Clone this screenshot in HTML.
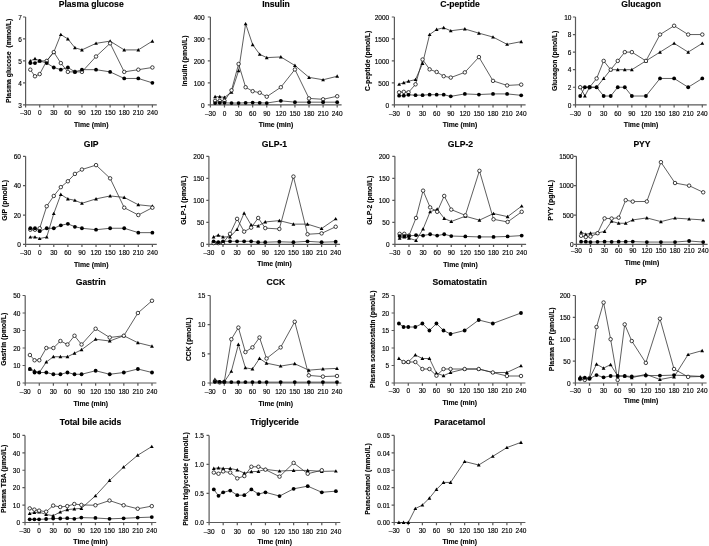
<!DOCTYPE html>
<html><head><meta charset="utf-8"><style>
html,body{margin:0;padding:0;background:#fff;}
svg{display:block;will-change:transform;}
text{font-family:"Liberation Sans",sans-serif;fill:#000;}
.tk{font-size:6.5px;stroke:#000;stroke-width:0.15px;}
.lb{font-size:6.85px;font-weight:bold;stroke:#000;stroke-width:0.12px;}
.tt{font-size:8.6px;font-weight:bold;stroke:#000;stroke-width:0.15px;}
</style></head><body>
<svg width="709" height="546" viewBox="0 0 709 546">
<rect width="709" height="546" fill="#fff"/>
<g><path d="M25.6 17V104.8H156.8" fill="none" stroke="#5a5a5a" stroke-width="1.2"/><path d="M23 104.8H25.6M23 82.85H25.6M23 60.9H25.6M23 38.95H25.6M23 17H25.6M25.6 104.8V107.5M39.69 104.8V107.5M53.78 104.8V107.5M67.86 104.8V107.5M81.95 104.8V107.5M96.04 104.8V107.5M110.13 104.8V107.5M124.22 104.8V107.5M138.3 104.8V107.5M152.39 104.8V107.5" stroke="#5a5a5a" stroke-width="1.2"/><text x="21.8" y="107.6" text-anchor="end" class="tk">3</text><text x="21.8" y="85.65" text-anchor="end" class="tk">4</text><text x="21.8" y="63.7" text-anchor="end" class="tk">5</text><text x="21.8" y="41.75" text-anchor="end" class="tk">6</text><text x="21.8" y="19.8" text-anchor="end" class="tk">7</text><text x="25.6" y="115" text-anchor="middle" class="tk">–30</text><text x="39.69" y="115" text-anchor="middle" class="tk">0</text><text x="53.78" y="115" text-anchor="middle" class="tk">30</text><text x="67.86" y="115" text-anchor="middle" class="tk">60</text><text x="81.95" y="115" text-anchor="middle" class="tk">90</text><text x="96.04" y="115" text-anchor="middle" class="tk">120</text><text x="110.13" y="115" text-anchor="middle" class="tk">150</text><text x="124.22" y="115" text-anchor="middle" class="tk">180</text><text x="138.3" y="115" text-anchor="middle" class="tk">210</text><text x="152.39" y="115" text-anchor="middle" class="tk">240</text><text x="91.2" y="126.9" text-anchor="middle" class="lb">Time (min)</text><text x="91.2" y="6.9" text-anchor="middle" class="tt">Plasma glucose</text><text transform="translate(10.9 60.9) rotate(-90)" text-anchor="middle" class="lb" xml:space="preserve">Plasma glucose  (mmol/L)</text><path d="M30.3 60.9L34.99 58.71L39.69 60.9L46.73 60.9L53.78 52.12L60.82 34.56L67.86 38.95L74.91 47.73L81.95 49.92L96.04 43.34L110.13 41.14L124.22 49.92L138.3 49.92L152.39 41.14" fill="none" stroke="#2a2a2a" stroke-width="0.75" stroke-linejoin="round"/><path d="M30.3 69.68L34.99 76.27L39.69 74.07L46.73 60.9L53.78 52.12L60.82 63.09L67.86 71.88L74.91 71.88L81.95 71.88L96.04 56.51L110.13 43.34L124.22 71.88L138.3 69.68L152.39 67.48" fill="none" stroke="#2a2a2a" stroke-width="0.75" stroke-linejoin="round"/><path d="M30.3 63.09L34.99 63.09L39.69 60.9L46.73 63.09L53.78 67.48L60.82 69.68L67.86 67.48L74.91 71.88L81.95 69.68L96.04 69.68L110.13 71.88L124.22 78.46L138.3 78.46L152.39 82.85" fill="none" stroke="#2a2a2a" stroke-width="0.75" stroke-linejoin="round"/><path d="M30.3 59L32.2 62.42H28.4Z" fill="#000"/><path d="M34.99 56.81L36.89 60.23H33.09Z" fill="#000"/><path d="M39.69 59L41.59 62.42H37.79Z" fill="#000"/><path d="M46.73 59L48.63 62.42H44.83Z" fill="#000"/><path d="M53.78 50.22L55.68 53.64H51.88Z" fill="#000"/><path d="M60.82 32.66L62.72 36.08H58.92Z" fill="#000"/><path d="M67.86 37.05L69.76 40.47H65.96Z" fill="#000"/><path d="M74.91 45.83L76.81 49.25H73.01Z" fill="#000"/><path d="M81.95 48.02L83.85 51.45H80.05Z" fill="#000"/><path d="M96.04 41.44L97.94 44.86H94.14Z" fill="#000"/><path d="M110.13 39.24L112.03 42.66H108.23Z" fill="#000"/><path d="M124.22 48.02L126.12 51.45H122.32Z" fill="#000"/><path d="M138.3 48.02L140.2 51.45H136.4Z" fill="#000"/><path d="M152.39 39.24L154.29 42.66H150.49Z" fill="#000"/><circle cx="30.3" cy="69.68" r="1.75" fill="#fff" stroke="#111" stroke-width="0.8"/><circle cx="34.99" cy="76.27" r="1.75" fill="#fff" stroke="#111" stroke-width="0.8"/><circle cx="39.69" cy="74.07" r="1.75" fill="#fff" stroke="#111" stroke-width="0.8"/><circle cx="46.73" cy="60.9" r="1.75" fill="#fff" stroke="#111" stroke-width="0.8"/><circle cx="53.78" cy="52.12" r="1.75" fill="#fff" stroke="#111" stroke-width="0.8"/><circle cx="60.82" cy="63.09" r="1.75" fill="#fff" stroke="#111" stroke-width="0.8"/><circle cx="67.86" cy="71.88" r="1.75" fill="#fff" stroke="#111" stroke-width="0.8"/><circle cx="74.91" cy="71.88" r="1.75" fill="#fff" stroke="#111" stroke-width="0.8"/><circle cx="81.95" cy="71.88" r="1.75" fill="#fff" stroke="#111" stroke-width="0.8"/><circle cx="96.04" cy="56.51" r="1.75" fill="#fff" stroke="#111" stroke-width="0.8"/><circle cx="110.13" cy="43.34" r="1.75" fill="#fff" stroke="#111" stroke-width="0.8"/><circle cx="124.22" cy="71.88" r="1.75" fill="#fff" stroke="#111" stroke-width="0.8"/><circle cx="138.3" cy="69.68" r="1.75" fill="#fff" stroke="#111" stroke-width="0.8"/><circle cx="152.39" cy="67.48" r="1.75" fill="#fff" stroke="#111" stroke-width="0.8"/><circle cx="30.3" cy="63.09" r="1.9" fill="#000"/><circle cx="34.99" cy="63.09" r="1.9" fill="#000"/><circle cx="39.69" cy="60.9" r="1.9" fill="#000"/><circle cx="46.73" cy="63.09" r="1.9" fill="#000"/><circle cx="53.78" cy="67.48" r="1.9" fill="#000"/><circle cx="60.82" cy="69.68" r="1.9" fill="#000"/><circle cx="67.86" cy="67.48" r="1.9" fill="#000"/><circle cx="74.91" cy="71.88" r="1.9" fill="#000"/><circle cx="81.95" cy="69.68" r="1.9" fill="#000"/><circle cx="96.04" cy="69.68" r="1.9" fill="#000"/><circle cx="110.13" cy="71.88" r="1.9" fill="#000"/><circle cx="124.22" cy="78.46" r="1.9" fill="#000"/><circle cx="138.3" cy="78.46" r="1.9" fill="#000"/><circle cx="152.39" cy="82.85" r="1.9" fill="#000"/></g>
<g><path d="M210.4 17V104.8H341.6" fill="none" stroke="#5a5a5a" stroke-width="1.2"/><path d="M207.8 104.8H210.4M207.8 82.85H210.4M207.8 60.9H210.4M207.8 38.95H210.4M207.8 17H210.4M210.4 104.8V107.5M224.49 104.8V107.5M238.58 104.8V107.5M252.66 104.8V107.5M266.75 104.8V107.5M280.84 104.8V107.5M294.93 104.8V107.5M309.02 104.8V107.5M323.1 104.8V107.5M337.19 104.8V107.5" stroke="#5a5a5a" stroke-width="1.2"/><text x="204.6" y="107.6" text-anchor="end" class="tk">0</text><text x="204.6" y="85.65" text-anchor="end" class="tk">100</text><text x="204.6" y="63.7" text-anchor="end" class="tk">200</text><text x="204.6" y="41.75" text-anchor="end" class="tk">300</text><text x="204.6" y="19.8" text-anchor="end" class="tk">400</text><text x="210.4" y="115.6" text-anchor="middle" class="tk">–30</text><text x="224.49" y="115.6" text-anchor="middle" class="tk">0</text><text x="238.58" y="115.6" text-anchor="middle" class="tk">30</text><text x="252.66" y="115.6" text-anchor="middle" class="tk">60</text><text x="266.75" y="115.6" text-anchor="middle" class="tk">90</text><text x="280.84" y="115.6" text-anchor="middle" class="tk">120</text><text x="294.93" y="115.6" text-anchor="middle" class="tk">150</text><text x="309.02" y="115.6" text-anchor="middle" class="tk">180</text><text x="323.1" y="115.6" text-anchor="middle" class="tk">210</text><text x="337.19" y="115.6" text-anchor="middle" class="tk">240</text><text x="276" y="127.4" text-anchor="middle" class="lb">Time (min)</text><text x="276" y="6.9" text-anchor="middle" class="tt">Insulin</text><text transform="translate(187.3 60.9) rotate(-90)" text-anchor="middle" class="lb" xml:space="preserve">Insulin (pmol/L)</text><path d="M215.1 96.68L219.79 96.68L224.49 97.34L231.53 92.29L238.58 70.78L245.62 23.8L252.66 44.66L259.71 54.32L266.75 57.61L280.84 56.95L294.93 65.51L309.02 77.36L323.1 79.78L337.19 76.27" fill="none" stroke="#2a2a2a" stroke-width="0.75" stroke-linejoin="round"/><path d="M215.1 100.85L219.79 100.85L224.49 100.85L231.53 90.31L238.58 63.97L245.62 87.24L252.66 91.19L259.71 92.73L266.75 96.68L280.84 87.24L294.93 69.46L309.02 98.43L323.1 99.31L337.19 96.24" fill="none" stroke="#2a2a2a" stroke-width="0.75" stroke-linejoin="round"/><path d="M215.1 103.04L219.79 102.82L224.49 102.82L231.53 103.04L238.58 103.04L245.62 102.82L252.66 102.61L259.71 102.82L266.75 103.04L280.84 100.85L294.93 102.17L309.02 102.17L323.1 102.17L337.19 102.17" fill="none" stroke="#2a2a2a" stroke-width="0.75" stroke-linejoin="round"/><path d="M215.1 94.78L217 98.2H213.2Z" fill="#000"/><path d="M219.79 94.78L221.69 98.2H217.89Z" fill="#000"/><path d="M224.49 95.44L226.39 98.86H222.59Z" fill="#000"/><path d="M231.53 90.39L233.43 93.81H229.63Z" fill="#000"/><path d="M238.58 68.88L240.48 72.3H236.68Z" fill="#000"/><path d="M245.62 21.9L247.52 25.32H243.72Z" fill="#000"/><path d="M252.66 42.76L254.56 46.18H250.76Z" fill="#000"/><path d="M259.71 52.42L261.61 55.84H257.81Z" fill="#000"/><path d="M266.75 55.71L268.65 59.13H264.85Z" fill="#000"/><path d="M280.84 55.05L282.74 58.47H278.94Z" fill="#000"/><path d="M294.93 63.61L296.83 67.03H293.03Z" fill="#000"/><path d="M309.02 75.46L310.92 78.88H307.12Z" fill="#000"/><path d="M323.1 77.88L325 81.3H321.2Z" fill="#000"/><path d="M337.19 74.36L339.09 77.78H335.29Z" fill="#000"/><circle cx="215.1" cy="100.85" r="1.75" fill="#fff" stroke="#111" stroke-width="0.8"/><circle cx="219.79" cy="100.85" r="1.75" fill="#fff" stroke="#111" stroke-width="0.8"/><circle cx="224.49" cy="100.85" r="1.75" fill="#fff" stroke="#111" stroke-width="0.8"/><circle cx="231.53" cy="90.31" r="1.75" fill="#fff" stroke="#111" stroke-width="0.8"/><circle cx="238.58" cy="63.97" r="1.75" fill="#fff" stroke="#111" stroke-width="0.8"/><circle cx="245.62" cy="87.24" r="1.75" fill="#fff" stroke="#111" stroke-width="0.8"/><circle cx="252.66" cy="91.19" r="1.75" fill="#fff" stroke="#111" stroke-width="0.8"/><circle cx="259.71" cy="92.73" r="1.75" fill="#fff" stroke="#111" stroke-width="0.8"/><circle cx="266.75" cy="96.68" r="1.75" fill="#fff" stroke="#111" stroke-width="0.8"/><circle cx="280.84" cy="87.24" r="1.75" fill="#fff" stroke="#111" stroke-width="0.8"/><circle cx="294.93" cy="69.46" r="1.75" fill="#fff" stroke="#111" stroke-width="0.8"/><circle cx="309.02" cy="98.43" r="1.75" fill="#fff" stroke="#111" stroke-width="0.8"/><circle cx="323.1" cy="99.31" r="1.75" fill="#fff" stroke="#111" stroke-width="0.8"/><circle cx="337.19" cy="96.24" r="1.75" fill="#fff" stroke="#111" stroke-width="0.8"/><circle cx="215.1" cy="103.04" r="1.9" fill="#000"/><circle cx="219.79" cy="102.82" r="1.9" fill="#000"/><circle cx="224.49" cy="102.82" r="1.9" fill="#000"/><circle cx="231.53" cy="103.04" r="1.9" fill="#000"/><circle cx="238.58" cy="103.04" r="1.9" fill="#000"/><circle cx="245.62" cy="102.82" r="1.9" fill="#000"/><circle cx="252.66" cy="102.61" r="1.9" fill="#000"/><circle cx="259.71" cy="102.82" r="1.9" fill="#000"/><circle cx="266.75" cy="103.04" r="1.9" fill="#000"/><circle cx="280.84" cy="100.85" r="1.9" fill="#000"/><circle cx="294.93" cy="102.17" r="1.9" fill="#000"/><circle cx="309.02" cy="102.17" r="1.9" fill="#000"/><circle cx="323.1" cy="102.17" r="1.9" fill="#000"/><circle cx="337.19" cy="102.17" r="1.9" fill="#000"/></g>
<g><path d="M394.4 17V104.8H525.6" fill="none" stroke="#5a5a5a" stroke-width="1.2"/><path d="M391.8 104.8H394.4M391.8 82.85H394.4M391.8 60.9H394.4M391.8 38.95H394.4M391.8 17H394.4M394.4 104.8V107.5M408.49 104.8V107.5M422.58 104.8V107.5M436.66 104.8V107.5M450.75 104.8V107.5M464.84 104.8V107.5M478.93 104.8V107.5M493.02 104.8V107.5M507.1 104.8V107.5M521.19 104.8V107.5" stroke="#5a5a5a" stroke-width="1.2"/><text x="389.2" y="107.6" text-anchor="end" class="tk">0</text><text x="389.2" y="85.65" text-anchor="end" class="tk">500</text><text x="389.2" y="63.7" text-anchor="end" class="tk">1000</text><text x="389.2" y="41.75" text-anchor="end" class="tk">1500</text><text x="389.2" y="19.8" text-anchor="end" class="tk">2000</text><text x="394.4" y="115.5" text-anchor="middle" class="tk">–30</text><text x="408.49" y="115.5" text-anchor="middle" class="tk">0</text><text x="422.58" y="115.5" text-anchor="middle" class="tk">30</text><text x="436.66" y="115.5" text-anchor="middle" class="tk">60</text><text x="450.75" y="115.5" text-anchor="middle" class="tk">90</text><text x="464.84" y="115.5" text-anchor="middle" class="tk">120</text><text x="478.93" y="115.5" text-anchor="middle" class="tk">150</text><text x="493.02" y="115.5" text-anchor="middle" class="tk">180</text><text x="507.1" y="115.5" text-anchor="middle" class="tk">210</text><text x="521.19" y="115.5" text-anchor="middle" class="tk">240</text><text x="460" y="127.2" text-anchor="middle" class="lb">Time (min)</text><text x="460" y="6.9" text-anchor="middle" class="tt">C-peptide</text><text transform="translate(369.5 60.9) rotate(-90)" text-anchor="middle" class="lb" xml:space="preserve">C-peptide (pmol/L)</text><path d="M399.1 84.34L403.79 82.63L408.49 81.27L415.53 79.56L422.58 63.49L429.62 34.56L436.66 29.47L443.71 27.76L450.75 30.78L464.84 28.98L478.93 33.16L493.02 37.06L507.1 44.35L521.19 41.63" fill="none" stroke="#2a2a2a" stroke-width="0.75" stroke-linejoin="round"/><path d="M399.1 92.33L403.79 91.85L408.49 92.33L415.53 84.34L422.58 59.5L429.62 69.37L436.66 71.96L443.71 76.18L450.75 77.58L464.84 72.36L478.93 57.08L493.02 80.87L507.1 85.44L521.19 84.65" fill="none" stroke="#2a2a2a" stroke-width="0.75" stroke-linejoin="round"/><path d="M399.1 95.71L403.79 95.71L408.49 94.83L415.53 95.14L422.58 95.14L429.62 94.7L436.66 94.7L443.71 94.7L450.75 96.37L464.84 93.91L478.93 94.53L493.02 93.91L507.1 93.91L521.19 95.32" fill="none" stroke="#2a2a2a" stroke-width="0.75" stroke-linejoin="round"/><path d="M399.1 82.44L401 85.86H397.2Z" fill="#000"/><path d="M403.79 80.73L405.69 84.15H401.89Z" fill="#000"/><path d="M408.49 79.37L410.39 82.79H406.59Z" fill="#000"/><path d="M415.53 77.66L417.43 81.08H413.63Z" fill="#000"/><path d="M422.58 61.59L424.48 65.01H420.68Z" fill="#000"/><path d="M429.62 32.66L431.52 36.08H427.72Z" fill="#000"/><path d="M436.66 27.57L438.56 30.99H434.76Z" fill="#000"/><path d="M443.71 25.86L445.61 29.28H441.81Z" fill="#000"/><path d="M450.75 28.88L452.65 32.3H448.85Z" fill="#000"/><path d="M464.84 27.08L466.74 30.5H462.94Z" fill="#000"/><path d="M478.93 31.26L480.83 34.68H477.03Z" fill="#000"/><path d="M493.02 35.16L494.92 38.58H491.12Z" fill="#000"/><path d="M507.1 42.45L509 45.87H505.2Z" fill="#000"/><path d="M521.19 39.73L523.09 43.15H519.29Z" fill="#000"/><circle cx="399.1" cy="92.33" r="1.75" fill="#fff" stroke="#111" stroke-width="0.8"/><circle cx="403.79" cy="91.85" r="1.75" fill="#fff" stroke="#111" stroke-width="0.8"/><circle cx="408.49" cy="92.33" r="1.75" fill="#fff" stroke="#111" stroke-width="0.8"/><circle cx="415.53" cy="84.34" r="1.75" fill="#fff" stroke="#111" stroke-width="0.8"/><circle cx="422.58" cy="59.5" r="1.75" fill="#fff" stroke="#111" stroke-width="0.8"/><circle cx="429.62" cy="69.37" r="1.75" fill="#fff" stroke="#111" stroke-width="0.8"/><circle cx="436.66" cy="71.96" r="1.75" fill="#fff" stroke="#111" stroke-width="0.8"/><circle cx="443.71" cy="76.18" r="1.75" fill="#fff" stroke="#111" stroke-width="0.8"/><circle cx="450.75" cy="77.58" r="1.75" fill="#fff" stroke="#111" stroke-width="0.8"/><circle cx="464.84" cy="72.36" r="1.75" fill="#fff" stroke="#111" stroke-width="0.8"/><circle cx="478.93" cy="57.08" r="1.75" fill="#fff" stroke="#111" stroke-width="0.8"/><circle cx="493.02" cy="80.87" r="1.75" fill="#fff" stroke="#111" stroke-width="0.8"/><circle cx="507.1" cy="85.44" r="1.75" fill="#fff" stroke="#111" stroke-width="0.8"/><circle cx="521.19" cy="84.65" r="1.75" fill="#fff" stroke="#111" stroke-width="0.8"/><circle cx="399.1" cy="95.71" r="1.9" fill="#000"/><circle cx="403.79" cy="95.71" r="1.9" fill="#000"/><circle cx="408.49" cy="94.83" r="1.9" fill="#000"/><circle cx="415.53" cy="95.14" r="1.9" fill="#000"/><circle cx="422.58" cy="95.14" r="1.9" fill="#000"/><circle cx="429.62" cy="94.7" r="1.9" fill="#000"/><circle cx="436.66" cy="94.7" r="1.9" fill="#000"/><circle cx="443.71" cy="94.7" r="1.9" fill="#000"/><circle cx="450.75" cy="96.37" r="1.9" fill="#000"/><circle cx="464.84" cy="93.91" r="1.9" fill="#000"/><circle cx="478.93" cy="94.53" r="1.9" fill="#000"/><circle cx="493.02" cy="93.91" r="1.9" fill="#000"/><circle cx="507.1" cy="93.91" r="1.9" fill="#000"/><circle cx="521.19" cy="95.32" r="1.9" fill="#000"/></g>
<g><path d="M575.5 17V104.8H706.7" fill="none" stroke="#5a5a5a" stroke-width="1.2"/><path d="M572.9 104.8H575.5M572.9 87.24H575.5M572.9 69.68H575.5M572.9 52.12H575.5M572.9 34.56H575.5M572.9 17H575.5M575.5 104.8V107.5M589.59 104.8V107.5M603.68 104.8V107.5M617.76 104.8V107.5M631.85 104.8V107.5M645.94 104.8V107.5M660.03 104.8V107.5M674.12 104.8V107.5M688.2 104.8V107.5M702.29 104.8V107.5" stroke="#5a5a5a" stroke-width="1.2"/><text x="571.4" y="107.6" text-anchor="end" class="tk">0</text><text x="571.4" y="90.04" text-anchor="end" class="tk">2</text><text x="571.4" y="72.48" text-anchor="end" class="tk">4</text><text x="571.4" y="54.92" text-anchor="end" class="tk">6</text><text x="571.4" y="37.36" text-anchor="end" class="tk">8</text><text x="571.4" y="19.8" text-anchor="end" class="tk">10</text><text x="575.5" y="115.5" text-anchor="middle" class="tk">–30</text><text x="589.59" y="115.5" text-anchor="middle" class="tk">0</text><text x="603.68" y="115.5" text-anchor="middle" class="tk">30</text><text x="617.76" y="115.5" text-anchor="middle" class="tk">60</text><text x="631.85" y="115.5" text-anchor="middle" class="tk">90</text><text x="645.94" y="115.5" text-anchor="middle" class="tk">120</text><text x="660.03" y="115.5" text-anchor="middle" class="tk">150</text><text x="674.12" y="115.5" text-anchor="middle" class="tk">180</text><text x="688.2" y="115.5" text-anchor="middle" class="tk">210</text><text x="702.29" y="115.5" text-anchor="middle" class="tk">240</text><text x="641.1" y="127.4" text-anchor="middle" class="lb">Time (min)</text><text x="641.1" y="6.9" text-anchor="middle" class="tt">Glucagon</text><text transform="translate(556.7 60.9) rotate(-90)" text-anchor="middle" class="lb" xml:space="preserve">Glucagon (pmol/L)</text><path d="M580.2 87.24L584.89 96.02L589.59 87.24L596.63 87.24L603.68 78.46L610.72 69.68L617.76 69.68L624.81 69.68L631.85 69.68L645.94 60.9L660.03 52.12L674.12 43.34L688.2 52.12L702.29 43.34" fill="none" stroke="#2a2a2a" stroke-width="0.75" stroke-linejoin="round"/><path d="M580.2 87.24L589.59 87.24L596.63 78.46L603.68 60.9L610.72 69.68L617.76 60.9L624.81 52.12L631.85 52.12L645.94 60.9L660.03 34.56L674.12 25.78L688.2 34.56L702.29 34.56" fill="none" stroke="#2a2a2a" stroke-width="0.75" stroke-linejoin="round"/><path d="M580.2 96.02L584.89 87.24L589.59 87.24L596.63 87.24L603.68 96.02L610.72 96.02L617.76 87.24L624.81 87.24L631.85 96.02L645.94 96.02L660.03 78.46L674.12 78.46L688.2 87.24L702.29 78.46" fill="none" stroke="#2a2a2a" stroke-width="0.75" stroke-linejoin="round"/><path d="M580.2 85.34L582.1 88.76H578.3Z" fill="#000"/><path d="M584.89 94.12L586.79 97.54H582.99Z" fill="#000"/><path d="M589.59 85.34L591.49 88.76H587.69Z" fill="#000"/><path d="M596.63 85.34L598.53 88.76H594.73Z" fill="#000"/><path d="M603.68 76.56L605.58 79.98H601.78Z" fill="#000"/><path d="M610.72 67.78L612.62 71.2H608.82Z" fill="#000"/><path d="M617.76 67.78L619.66 71.2H615.86Z" fill="#000"/><path d="M624.81 67.78L626.71 71.2H622.91Z" fill="#000"/><path d="M631.85 67.78L633.75 71.2H629.95Z" fill="#000"/><path d="M645.94 59L647.84 62.42H644.04Z" fill="#000"/><path d="M660.03 50.22L661.93 53.64H658.13Z" fill="#000"/><path d="M674.12 41.44L676.02 44.86H672.22Z" fill="#000"/><path d="M688.2 50.22L690.1 53.64H686.3Z" fill="#000"/><path d="M702.29 41.44L704.19 44.86H700.39Z" fill="#000"/><circle cx="580.2" cy="87.24" r="1.75" fill="#fff" stroke="#111" stroke-width="0.8"/><circle cx="589.59" cy="87.24" r="1.75" fill="#fff" stroke="#111" stroke-width="0.8"/><circle cx="596.63" cy="78.46" r="1.75" fill="#fff" stroke="#111" stroke-width="0.8"/><circle cx="603.68" cy="60.9" r="1.75" fill="#fff" stroke="#111" stroke-width="0.8"/><circle cx="610.72" cy="69.68" r="1.75" fill="#fff" stroke="#111" stroke-width="0.8"/><circle cx="617.76" cy="60.9" r="1.75" fill="#fff" stroke="#111" stroke-width="0.8"/><circle cx="624.81" cy="52.12" r="1.75" fill="#fff" stroke="#111" stroke-width="0.8"/><circle cx="631.85" cy="52.12" r="1.75" fill="#fff" stroke="#111" stroke-width="0.8"/><circle cx="645.94" cy="60.9" r="1.75" fill="#fff" stroke="#111" stroke-width="0.8"/><circle cx="660.03" cy="34.56" r="1.75" fill="#fff" stroke="#111" stroke-width="0.8"/><circle cx="674.12" cy="25.78" r="1.75" fill="#fff" stroke="#111" stroke-width="0.8"/><circle cx="688.2" cy="34.56" r="1.75" fill="#fff" stroke="#111" stroke-width="0.8"/><circle cx="702.29" cy="34.56" r="1.75" fill="#fff" stroke="#111" stroke-width="0.8"/><circle cx="580.2" cy="96.02" r="1.9" fill="#000"/><circle cx="584.89" cy="87.24" r="1.9" fill="#000"/><circle cx="589.59" cy="87.24" r="1.9" fill="#000"/><circle cx="596.63" cy="87.24" r="1.9" fill="#000"/><circle cx="603.68" cy="96.02" r="1.9" fill="#000"/><circle cx="610.72" cy="96.02" r="1.9" fill="#000"/><circle cx="617.76" cy="87.24" r="1.9" fill="#000"/><circle cx="624.81" cy="87.24" r="1.9" fill="#000"/><circle cx="631.85" cy="96.02" r="1.9" fill="#000"/><circle cx="645.94" cy="96.02" r="1.9" fill="#000"/><circle cx="660.03" cy="78.46" r="1.9" fill="#000"/><circle cx="674.12" cy="78.46" r="1.9" fill="#000"/><circle cx="688.2" cy="87.24" r="1.9" fill="#000"/><circle cx="702.29" cy="78.46" r="1.9" fill="#000"/></g>
<g><path d="M25.6 156.3V244.4H156.8" fill="none" stroke="#5a5a5a" stroke-width="1.2"/><path d="M23 244.4H25.6M23 215.03H25.6M23 185.67H25.6M23 156.3H25.6M25.6 244.4V247.1M39.69 244.4V247.1M53.78 244.4V247.1M67.86 244.4V247.1M81.95 244.4V247.1M96.04 244.4V247.1M110.13 244.4V247.1M124.22 244.4V247.1M138.3 244.4V247.1M152.39 244.4V247.1" stroke="#5a5a5a" stroke-width="1.2"/><text x="20.9" y="247.2" text-anchor="end" class="tk">0</text><text x="20.9" y="217.83" text-anchor="end" class="tk">20</text><text x="20.9" y="188.47" text-anchor="end" class="tk">40</text><text x="20.9" y="159.1" text-anchor="end" class="tk">60</text><text x="25.6" y="255" text-anchor="middle" class="tk">–30</text><text x="39.69" y="255" text-anchor="middle" class="tk">0</text><text x="53.78" y="255" text-anchor="middle" class="tk">30</text><text x="67.86" y="255" text-anchor="middle" class="tk">60</text><text x="81.95" y="255" text-anchor="middle" class="tk">90</text><text x="96.04" y="255" text-anchor="middle" class="tk">120</text><text x="110.13" y="255" text-anchor="middle" class="tk">150</text><text x="124.22" y="255" text-anchor="middle" class="tk">180</text><text x="138.3" y="255" text-anchor="middle" class="tk">210</text><text x="152.39" y="255" text-anchor="middle" class="tk">240</text><text x="91.2" y="266.7" text-anchor="middle" class="lb">Time (min)</text><text x="91.2" y="146.6" text-anchor="middle" class="tt">GIP</text><text transform="translate(6.7 200.35) rotate(-90)" text-anchor="middle" class="lb" xml:space="preserve">GIP (pmol/L)</text><path d="M30.3 237.06L34.99 237.06L39.69 238.53L46.73 237.06L53.78 213.56L60.82 194.48L67.86 198.88L74.91 200.35L81.95 203.29L96.04 198.88L110.13 195.94L124.22 197.41L138.3 204.75L152.39 206.22" fill="none" stroke="#2a2a2a" stroke-width="0.75" stroke-linejoin="round"/><path d="M30.3 229.72L34.99 229.72L39.69 228.25L46.73 206.22L53.78 195.94L60.82 187.13L67.86 181.26L74.91 173.92L81.95 169.52L96.04 165.11L110.13 178.33L124.22 207.69L138.3 215.03L152.39 207.69" fill="none" stroke="#2a2a2a" stroke-width="0.75" stroke-linejoin="round"/><path d="M30.3 228.25L34.99 228.25L39.69 231.19L46.73 228.25L53.78 228.25L60.82 225.31L67.86 223.84L74.91 226.78L81.95 228.25L96.04 229.72L110.13 228.25L124.22 228.25L138.3 232.65L152.39 232.65" fill="none" stroke="#2a2a2a" stroke-width="0.75" stroke-linejoin="round"/><path d="M30.3 235.16L32.2 238.58H28.4Z" fill="#000"/><path d="M34.99 235.16L36.89 238.58H33.09Z" fill="#000"/><path d="M39.69 236.63L41.59 240.05H37.79Z" fill="#000"/><path d="M46.73 235.16L48.63 238.58H44.83Z" fill="#000"/><path d="M53.78 211.66L55.68 215.09H51.88Z" fill="#000"/><path d="M60.82 192.58L62.72 196H58.92Z" fill="#000"/><path d="M67.86 196.98L69.76 200.4H65.96Z" fill="#000"/><path d="M74.91 198.45L76.81 201.87H73.01Z" fill="#000"/><path d="M81.95 201.39L83.85 204.81H80.05Z" fill="#000"/><path d="M96.04 196.98L97.94 200.4H94.14Z" fill="#000"/><path d="M110.13 194.04L112.03 197.47H108.23Z" fill="#000"/><path d="M124.22 195.51L126.12 198.93H122.32Z" fill="#000"/><path d="M138.3 202.85L140.2 206.28H136.4Z" fill="#000"/><path d="M152.39 204.32L154.29 207.74H150.49Z" fill="#000"/><circle cx="30.3" cy="229.72" r="1.75" fill="#fff" stroke="#111" stroke-width="0.8"/><circle cx="34.99" cy="229.72" r="1.75" fill="#fff" stroke="#111" stroke-width="0.8"/><circle cx="39.69" cy="228.25" r="1.75" fill="#fff" stroke="#111" stroke-width="0.8"/><circle cx="46.73" cy="206.22" r="1.75" fill="#fff" stroke="#111" stroke-width="0.8"/><circle cx="53.78" cy="195.94" r="1.75" fill="#fff" stroke="#111" stroke-width="0.8"/><circle cx="60.82" cy="187.13" r="1.75" fill="#fff" stroke="#111" stroke-width="0.8"/><circle cx="67.86" cy="181.26" r="1.75" fill="#fff" stroke="#111" stroke-width="0.8"/><circle cx="74.91" cy="173.92" r="1.75" fill="#fff" stroke="#111" stroke-width="0.8"/><circle cx="81.95" cy="169.52" r="1.75" fill="#fff" stroke="#111" stroke-width="0.8"/><circle cx="96.04" cy="165.11" r="1.75" fill="#fff" stroke="#111" stroke-width="0.8"/><circle cx="110.13" cy="178.33" r="1.75" fill="#fff" stroke="#111" stroke-width="0.8"/><circle cx="124.22" cy="207.69" r="1.75" fill="#fff" stroke="#111" stroke-width="0.8"/><circle cx="138.3" cy="215.03" r="1.75" fill="#fff" stroke="#111" stroke-width="0.8"/><circle cx="152.39" cy="207.69" r="1.75" fill="#fff" stroke="#111" stroke-width="0.8"/><circle cx="30.3" cy="228.25" r="1.9" fill="#000"/><circle cx="34.99" cy="228.25" r="1.9" fill="#000"/><circle cx="39.69" cy="231.19" r="1.9" fill="#000"/><circle cx="46.73" cy="228.25" r="1.9" fill="#000"/><circle cx="53.78" cy="228.25" r="1.9" fill="#000"/><circle cx="60.82" cy="225.31" r="1.9" fill="#000"/><circle cx="67.86" cy="223.84" r="1.9" fill="#000"/><circle cx="74.91" cy="226.78" r="1.9" fill="#000"/><circle cx="81.95" cy="228.25" r="1.9" fill="#000"/><circle cx="96.04" cy="229.72" r="1.9" fill="#000"/><circle cx="110.13" cy="228.25" r="1.9" fill="#000"/><circle cx="124.22" cy="228.25" r="1.9" fill="#000"/><circle cx="138.3" cy="232.65" r="1.9" fill="#000"/><circle cx="152.39" cy="232.65" r="1.9" fill="#000"/></g>
<g><path d="M208.9 156.3V244.4H340.1" fill="none" stroke="#5a5a5a" stroke-width="1.2"/><path d="M206.3 244.4H208.9M206.3 222.38H208.9M206.3 200.35H208.9M206.3 178.33H208.9M206.3 156.3H208.9M208.9 244.4V247.1M222.99 244.4V247.1M237.08 244.4V247.1M251.16 244.4V247.1M265.25 244.4V247.1M279.34 244.4V247.1M293.43 244.4V247.1M307.52 244.4V247.1M321.6 244.4V247.1M335.69 244.4V247.1" stroke="#5a5a5a" stroke-width="1.2"/><text x="204.2" y="247.2" text-anchor="end" class="tk">0</text><text x="204.2" y="225.18" text-anchor="end" class="tk">50</text><text x="204.2" y="203.15" text-anchor="end" class="tk">100</text><text x="204.2" y="181.13" text-anchor="end" class="tk">150</text><text x="204.2" y="159.1" text-anchor="end" class="tk">200</text><text x="208.9" y="254.5" text-anchor="middle" class="tk">–30</text><text x="222.99" y="254.5" text-anchor="middle" class="tk">0</text><text x="237.08" y="254.5" text-anchor="middle" class="tk">30</text><text x="251.16" y="254.5" text-anchor="middle" class="tk">60</text><text x="265.25" y="254.5" text-anchor="middle" class="tk">90</text><text x="279.34" y="254.5" text-anchor="middle" class="tk">120</text><text x="293.43" y="254.5" text-anchor="middle" class="tk">150</text><text x="307.52" y="254.5" text-anchor="middle" class="tk">180</text><text x="321.6" y="254.5" text-anchor="middle" class="tk">210</text><text x="335.69" y="254.5" text-anchor="middle" class="tk">240</text><text x="274.5" y="266.2" text-anchor="middle" class="lb">Time (min)</text><text x="274.5" y="146.6" text-anchor="middle" class="tt">GLP-1</text><text transform="translate(186.4 200.35) rotate(-90)" text-anchor="middle" class="lb" xml:space="preserve">GLP-1 (pmol/L)</text><path d="M213.6 236.91L218.29 235.15L222.99 236.91L230.03 236.91L237.08 229.42L244.12 213.12L251.16 225.02L258.21 225.9L265.25 221.93L279.34 220.61L293.43 224.14L307.52 224.14L321.6 228.54L335.69 218.85" fill="none" stroke="#2a2a2a" stroke-width="0.75" stroke-linejoin="round"/><path d="M213.6 243.08L218.29 243.08L222.99 243.08L230.03 233.83L237.08 218.85L244.12 231.63L251.16 227.66L258.21 217.97L265.25 228.1L279.34 228.98L293.43 176.56L307.52 234.27L321.6 233.39L335.69 226.78" fill="none" stroke="#2a2a2a" stroke-width="0.75" stroke-linejoin="round"/><path d="M213.6 241.32L218.29 242.2L222.99 241.32L230.03 241.32L237.08 241.32L244.12 241.32L251.16 241.32L258.21 242.2L265.25 242.2L279.34 241.76L293.43 242.2L307.52 241.32L321.6 242.2L335.69 241.76" fill="none" stroke="#2a2a2a" stroke-width="0.75" stroke-linejoin="round"/><path d="M213.6 235.01L215.5 238.43H211.7Z" fill="#000"/><path d="M218.29 233.25L220.19 236.67H216.39Z" fill="#000"/><path d="M222.99 235.01L224.89 238.43H221.09Z" fill="#000"/><path d="M230.03 235.01L231.93 238.43H228.13Z" fill="#000"/><path d="M237.08 227.52L238.98 230.94H235.18Z" fill="#000"/><path d="M244.12 211.22L246.02 214.64H242.22Z" fill="#000"/><path d="M251.16 223.12L253.06 226.54H249.26Z" fill="#000"/><path d="M258.21 224L260.11 227.42H256.31Z" fill="#000"/><path d="M265.25 220.03L267.15 223.45H263.35Z" fill="#000"/><path d="M279.34 218.71L281.24 222.13H277.44Z" fill="#000"/><path d="M293.43 222.24L295.33 225.66H291.53Z" fill="#000"/><path d="M307.52 222.24L309.42 225.66H305.62Z" fill="#000"/><path d="M321.6 226.64L323.5 230.06H319.7Z" fill="#000"/><path d="M335.69 216.95L337.59 220.37H333.79Z" fill="#000"/><circle cx="213.6" cy="243.08" r="1.75" fill="#fff" stroke="#111" stroke-width="0.8"/><circle cx="218.29" cy="243.08" r="1.75" fill="#fff" stroke="#111" stroke-width="0.8"/><circle cx="222.99" cy="243.08" r="1.75" fill="#fff" stroke="#111" stroke-width="0.8"/><circle cx="230.03" cy="233.83" r="1.75" fill="#fff" stroke="#111" stroke-width="0.8"/><circle cx="237.08" cy="218.85" r="1.75" fill="#fff" stroke="#111" stroke-width="0.8"/><circle cx="244.12" cy="231.63" r="1.75" fill="#fff" stroke="#111" stroke-width="0.8"/><circle cx="251.16" cy="227.66" r="1.75" fill="#fff" stroke="#111" stroke-width="0.8"/><circle cx="258.21" cy="217.97" r="1.75" fill="#fff" stroke="#111" stroke-width="0.8"/><circle cx="265.25" cy="228.1" r="1.75" fill="#fff" stroke="#111" stroke-width="0.8"/><circle cx="279.34" cy="228.98" r="1.75" fill="#fff" stroke="#111" stroke-width="0.8"/><circle cx="293.43" cy="176.56" r="1.75" fill="#fff" stroke="#111" stroke-width="0.8"/><circle cx="307.52" cy="234.27" r="1.75" fill="#fff" stroke="#111" stroke-width="0.8"/><circle cx="321.6" cy="233.39" r="1.75" fill="#fff" stroke="#111" stroke-width="0.8"/><circle cx="335.69" cy="226.78" r="1.75" fill="#fff" stroke="#111" stroke-width="0.8"/><circle cx="213.6" cy="241.32" r="1.9" fill="#000"/><circle cx="218.29" cy="242.2" r="1.9" fill="#000"/><circle cx="222.99" cy="241.32" r="1.9" fill="#000"/><circle cx="230.03" cy="241.32" r="1.9" fill="#000"/><circle cx="237.08" cy="241.32" r="1.9" fill="#000"/><circle cx="244.12" cy="241.32" r="1.9" fill="#000"/><circle cx="251.16" cy="241.32" r="1.9" fill="#000"/><circle cx="258.21" cy="242.2" r="1.9" fill="#000"/><circle cx="265.25" cy="242.2" r="1.9" fill="#000"/><circle cx="279.34" cy="241.76" r="1.9" fill="#000"/><circle cx="293.43" cy="242.2" r="1.9" fill="#000"/><circle cx="307.52" cy="241.32" r="1.9" fill="#000"/><circle cx="321.6" cy="242.2" r="1.9" fill="#000"/><circle cx="335.69" cy="241.76" r="1.9" fill="#000"/></g>
<g><path d="M394.9 156.3V244.4H526.1" fill="none" stroke="#5a5a5a" stroke-width="1.2"/><path d="M392.3 244.4H394.9M392.3 222.38H394.9M392.3 200.35H394.9M392.3 178.33H394.9M392.3 156.3H394.9M394.9 244.4V247.1M408.99 244.4V247.1M423.08 244.4V247.1M437.16 244.4V247.1M451.25 244.4V247.1M465.34 244.4V247.1M479.43 244.4V247.1M493.52 244.4V247.1M507.6 244.4V247.1M521.69 244.4V247.1" stroke="#5a5a5a" stroke-width="1.2"/><text x="389.6" y="247.2" text-anchor="end" class="tk">0</text><text x="389.6" y="225.18" text-anchor="end" class="tk">50</text><text x="389.6" y="203.15" text-anchor="end" class="tk">100</text><text x="389.6" y="181.13" text-anchor="end" class="tk">150</text><text x="389.6" y="159.1" text-anchor="end" class="tk">200</text><text x="394.9" y="254.8" text-anchor="middle" class="tk">–30</text><text x="408.99" y="254.8" text-anchor="middle" class="tk">0</text><text x="423.08" y="254.8" text-anchor="middle" class="tk">30</text><text x="437.16" y="254.8" text-anchor="middle" class="tk">60</text><text x="451.25" y="254.8" text-anchor="middle" class="tk">90</text><text x="465.34" y="254.8" text-anchor="middle" class="tk">120</text><text x="479.43" y="254.8" text-anchor="middle" class="tk">150</text><text x="493.52" y="254.8" text-anchor="middle" class="tk">180</text><text x="507.6" y="254.8" text-anchor="middle" class="tk">210</text><text x="521.69" y="254.8" text-anchor="middle" class="tk">240</text><text x="460.5" y="266.6" text-anchor="middle" class="lb">Time (min)</text><text x="460.5" y="146.6" text-anchor="middle" class="tt">GLP-2</text><text transform="translate(371.7 200.35) rotate(-90)" text-anchor="middle" class="lb" xml:space="preserve">GLP-2 (pmol/L)</text><path d="M399.6 238.23L404.29 236.91L408.99 238.23L416.03 240.44L423.08 228.98L430.12 211.8L437.16 209.16L444.21 218.41L451.25 221.49L465.34 216.21L479.43 220.17L493.52 213.56L507.6 216.65L521.69 206.08" fill="none" stroke="#2a2a2a" stroke-width="0.75" stroke-linejoin="round"/><path d="M399.6 233.83L404.29 233.83L408.99 235.59L416.03 217.97L423.08 190.66L430.12 207.4L437.16 211.8L444.21 195.94L451.25 209.6L465.34 215.33L479.43 170.84L493.52 219.29L507.6 221.93L521.69 211.8" fill="none" stroke="#2a2a2a" stroke-width="0.75" stroke-linejoin="round"/><path d="M399.6 236.03L404.29 236.03L408.99 236.03L416.03 235.15L423.08 235.59L430.12 234.27L437.16 235.59L444.21 234.27L451.25 236.03L465.34 236.47L479.43 236.91L493.52 236.91L507.6 236.47L521.69 235.59" fill="none" stroke="#2a2a2a" stroke-width="0.75" stroke-linejoin="round"/><path d="M399.6 236.33L401.5 239.75H397.7Z" fill="#000"/><path d="M404.29 235.01L406.19 238.43H402.39Z" fill="#000"/><path d="M408.99 236.33L410.89 239.75H407.09Z" fill="#000"/><path d="M416.03 238.54L417.93 241.96H414.13Z" fill="#000"/><path d="M423.08 227.08L424.98 230.5H421.18Z" fill="#000"/><path d="M430.12 209.9L432.02 213.32H428.22Z" fill="#000"/><path d="M437.16 207.26L439.06 210.68H435.26Z" fill="#000"/><path d="M444.21 216.51L446.11 219.93H442.31Z" fill="#000"/><path d="M451.25 219.59L453.15 223.01H449.35Z" fill="#000"/><path d="M465.34 214.31L467.24 217.73H463.44Z" fill="#000"/><path d="M479.43 218.27L481.33 221.69H477.53Z" fill="#000"/><path d="M493.52 211.66L495.42 215.09H491.62Z" fill="#000"/><path d="M507.6 214.75L509.5 218.17H505.7Z" fill="#000"/><path d="M521.69 204.18L523.59 207.6H519.79Z" fill="#000"/><circle cx="399.6" cy="233.83" r="1.75" fill="#fff" stroke="#111" stroke-width="0.8"/><circle cx="404.29" cy="233.83" r="1.75" fill="#fff" stroke="#111" stroke-width="0.8"/><circle cx="408.99" cy="235.59" r="1.75" fill="#fff" stroke="#111" stroke-width="0.8"/><circle cx="416.03" cy="217.97" r="1.75" fill="#fff" stroke="#111" stroke-width="0.8"/><circle cx="423.08" cy="190.66" r="1.75" fill="#fff" stroke="#111" stroke-width="0.8"/><circle cx="430.12" cy="207.4" r="1.75" fill="#fff" stroke="#111" stroke-width="0.8"/><circle cx="437.16" cy="211.8" r="1.75" fill="#fff" stroke="#111" stroke-width="0.8"/><circle cx="444.21" cy="195.94" r="1.75" fill="#fff" stroke="#111" stroke-width="0.8"/><circle cx="451.25" cy="209.6" r="1.75" fill="#fff" stroke="#111" stroke-width="0.8"/><circle cx="465.34" cy="215.33" r="1.75" fill="#fff" stroke="#111" stroke-width="0.8"/><circle cx="479.43" cy="170.84" r="1.75" fill="#fff" stroke="#111" stroke-width="0.8"/><circle cx="493.52" cy="219.29" r="1.75" fill="#fff" stroke="#111" stroke-width="0.8"/><circle cx="507.6" cy="221.93" r="1.75" fill="#fff" stroke="#111" stroke-width="0.8"/><circle cx="521.69" cy="211.8" r="1.75" fill="#fff" stroke="#111" stroke-width="0.8"/><circle cx="399.6" cy="236.03" r="1.9" fill="#000"/><circle cx="404.29" cy="236.03" r="1.9" fill="#000"/><circle cx="408.99" cy="236.03" r="1.9" fill="#000"/><circle cx="416.03" cy="235.15" r="1.9" fill="#000"/><circle cx="423.08" cy="235.59" r="1.9" fill="#000"/><circle cx="430.12" cy="234.27" r="1.9" fill="#000"/><circle cx="437.16" cy="235.59" r="1.9" fill="#000"/><circle cx="444.21" cy="234.27" r="1.9" fill="#000"/><circle cx="451.25" cy="236.03" r="1.9" fill="#000"/><circle cx="465.34" cy="236.47" r="1.9" fill="#000"/><circle cx="479.43" cy="236.91" r="1.9" fill="#000"/><circle cx="493.52" cy="236.91" r="1.9" fill="#000"/><circle cx="507.6" cy="236.47" r="1.9" fill="#000"/><circle cx="521.69" cy="235.59" r="1.9" fill="#000"/></g>
<g><path d="M576.4 156.3V244.4H707.6" fill="none" stroke="#5a5a5a" stroke-width="1.2"/><path d="M573.8 244.4H576.4M573.8 215.03H576.4M573.8 185.67H576.4M573.8 156.3H576.4M576.4 244.4V247.1M590.49 244.4V247.1M604.58 244.4V247.1M618.66 244.4V247.1M632.75 244.4V247.1M646.84 244.4V247.1M660.93 244.4V247.1M675.02 244.4V247.1M689.1 244.4V247.1M703.19 244.4V247.1" stroke="#5a5a5a" stroke-width="1.2"/><text x="573.6" y="247.2" text-anchor="end" class="tk">0</text><text x="573.6" y="217.83" text-anchor="end" class="tk">500</text><text x="573.6" y="188.47" text-anchor="end" class="tk">1000</text><text x="573.6" y="159.1" text-anchor="end" class="tk">1500</text><text x="576.4" y="252.8" text-anchor="middle" class="tk">–30</text><text x="590.49" y="252.8" text-anchor="middle" class="tk">0</text><text x="604.58" y="252.8" text-anchor="middle" class="tk">30</text><text x="618.66" y="252.8" text-anchor="middle" class="tk">60</text><text x="632.75" y="252.8" text-anchor="middle" class="tk">90</text><text x="646.84" y="252.8" text-anchor="middle" class="tk">120</text><text x="660.93" y="252.8" text-anchor="middle" class="tk">150</text><text x="675.02" y="252.8" text-anchor="middle" class="tk">180</text><text x="689.1" y="252.8" text-anchor="middle" class="tk">210</text><text x="703.19" y="252.8" text-anchor="middle" class="tk">240</text><text x="642" y="264.8" text-anchor="middle" class="lb">Time (min)</text><text x="642" y="146.6" text-anchor="middle" class="tt">PYY</text><text transform="translate(553.1 200.35) rotate(-90)" text-anchor="middle" class="lb" xml:space="preserve">PYY (pg/mL)</text><path d="M581.1 232.12L585.79 234.36L590.49 233.24L597.53 232.95L604.58 231.42L611.62 221.32L618.66 223.26L625.71 223.26L632.75 219.91L646.84 217.91L660.93 221.61L675.02 218.09L689.1 219.03L703.19 219.91" fill="none" stroke="#2a2a2a" stroke-width="0.75" stroke-linejoin="round"/><path d="M581.1 235.82L585.79 237.06L590.49 236.53L597.53 233.24L604.58 218.38L611.62 218.56L618.66 217.68L625.71 200.17L632.75 201.58L646.84 201.47L660.93 162.17L675.02 183.02L689.1 185.67L703.19 192.3" fill="none" stroke="#2a2a2a" stroke-width="0.75" stroke-linejoin="round"/><path d="M581.1 241.7L585.79 241.7L590.49 242.05L597.53 241.87L604.58 241.7L611.62 241.87L618.66 241.7L625.71 241.7L632.75 241.58L646.84 242.05L660.93 242.05L675.02 242.05L689.1 240.99L703.19 242.05" fill="none" stroke="#2a2a2a" stroke-width="0.75" stroke-linejoin="round"/><path d="M581.1 230.22L583 233.64H579.2Z" fill="#000"/><path d="M585.79 232.46L587.69 235.88H583.89Z" fill="#000"/><path d="M590.49 231.34L592.39 234.76H588.59Z" fill="#000"/><path d="M597.53 231.05L599.43 234.47H595.63Z" fill="#000"/><path d="M604.58 229.52L606.48 232.94H602.68Z" fill="#000"/><path d="M611.62 219.42L613.52 222.84H609.72Z" fill="#000"/><path d="M618.66 221.36L620.56 224.78H616.76Z" fill="#000"/><path d="M625.71 221.36L627.61 224.78H623.81Z" fill="#000"/><path d="M632.75 218.01L634.65 221.43H630.85Z" fill="#000"/><path d="M646.84 216.01L648.74 219.43H644.94Z" fill="#000"/><path d="M660.93 219.71L662.83 223.13H659.03Z" fill="#000"/><path d="M675.02 216.19L676.92 219.61H673.12Z" fill="#000"/><path d="M689.1 217.13L691 220.55H687.2Z" fill="#000"/><path d="M703.19 218.01L705.09 221.43H701.29Z" fill="#000"/><circle cx="581.1" cy="235.82" r="1.75" fill="#fff" stroke="#111" stroke-width="0.8"/><circle cx="585.79" cy="237.06" r="1.75" fill="#fff" stroke="#111" stroke-width="0.8"/><circle cx="590.49" cy="236.53" r="1.75" fill="#fff" stroke="#111" stroke-width="0.8"/><circle cx="597.53" cy="233.24" r="1.75" fill="#fff" stroke="#111" stroke-width="0.8"/><circle cx="604.58" cy="218.38" r="1.75" fill="#fff" stroke="#111" stroke-width="0.8"/><circle cx="611.62" cy="218.56" r="1.75" fill="#fff" stroke="#111" stroke-width="0.8"/><circle cx="618.66" cy="217.68" r="1.75" fill="#fff" stroke="#111" stroke-width="0.8"/><circle cx="625.71" cy="200.17" r="1.75" fill="#fff" stroke="#111" stroke-width="0.8"/><circle cx="632.75" cy="201.58" r="1.75" fill="#fff" stroke="#111" stroke-width="0.8"/><circle cx="646.84" cy="201.47" r="1.75" fill="#fff" stroke="#111" stroke-width="0.8"/><circle cx="660.93" cy="162.17" r="1.75" fill="#fff" stroke="#111" stroke-width="0.8"/><circle cx="675.02" cy="183.02" r="1.75" fill="#fff" stroke="#111" stroke-width="0.8"/><circle cx="689.1" cy="185.67" r="1.75" fill="#fff" stroke="#111" stroke-width="0.8"/><circle cx="703.19" cy="192.3" r="1.75" fill="#fff" stroke="#111" stroke-width="0.8"/><circle cx="581.1" cy="241.7" r="1.9" fill="#000"/><circle cx="585.79" cy="241.7" r="1.9" fill="#000"/><circle cx="590.49" cy="242.05" r="1.9" fill="#000"/><circle cx="597.53" cy="241.87" r="1.9" fill="#000"/><circle cx="604.58" cy="241.7" r="1.9" fill="#000"/><circle cx="611.62" cy="241.87" r="1.9" fill="#000"/><circle cx="618.66" cy="241.7" r="1.9" fill="#000"/><circle cx="625.71" cy="241.7" r="1.9" fill="#000"/><circle cx="632.75" cy="241.58" r="1.9" fill="#000"/><circle cx="646.84" cy="242.05" r="1.9" fill="#000"/><circle cx="660.93" cy="242.05" r="1.9" fill="#000"/><circle cx="675.02" cy="242.05" r="1.9" fill="#000"/><circle cx="689.1" cy="240.99" r="1.9" fill="#000"/><circle cx="703.19" cy="242.05" r="1.9" fill="#000"/></g>
<g><path d="M25.2 295.5V383H156.4" fill="none" stroke="#5a5a5a" stroke-width="1.2"/><path d="M22.6 383H25.2M22.6 365.5H25.2M22.6 348H25.2M22.6 330.5H25.2M22.6 313H25.2M22.6 295.5H25.2M25.2 383V385.7M39.29 383V385.7M53.38 383V385.7M67.46 383V385.7M81.55 383V385.7M95.64 383V385.7M109.73 383V385.7M123.82 383V385.7M137.9 383V385.7M151.99 383V385.7" stroke="#5a5a5a" stroke-width="1.2"/><text x="20.4" y="385.8" text-anchor="end" class="tk">0</text><text x="20.4" y="368.3" text-anchor="end" class="tk">10</text><text x="20.4" y="350.8" text-anchor="end" class="tk">20</text><text x="20.4" y="333.3" text-anchor="end" class="tk">30</text><text x="20.4" y="315.8" text-anchor="end" class="tk">40</text><text x="20.4" y="298.3" text-anchor="end" class="tk">50</text><text x="25.2" y="393.5" text-anchor="middle" class="tk">–30</text><text x="39.29" y="393.5" text-anchor="middle" class="tk">0</text><text x="53.38" y="393.5" text-anchor="middle" class="tk">30</text><text x="67.46" y="393.5" text-anchor="middle" class="tk">60</text><text x="81.55" y="393.5" text-anchor="middle" class="tk">90</text><text x="95.64" y="393.5" text-anchor="middle" class="tk">120</text><text x="109.73" y="393.5" text-anchor="middle" class="tk">150</text><text x="123.82" y="393.5" text-anchor="middle" class="tk">180</text><text x="137.9" y="393.5" text-anchor="middle" class="tk">210</text><text x="151.99" y="393.5" text-anchor="middle" class="tk">240</text><text x="90.8" y="405.6" text-anchor="middle" class="lb">Time (min)</text><text x="90.8" y="284.9" text-anchor="middle" class="tt">Gastrin</text><text transform="translate(6.2 339.25) rotate(-90)" text-anchor="middle" class="lb" xml:space="preserve">Gastrin (pmol/L)</text><path d="M29.9 369L34.59 370.75L39.29 372.5L46.33 362L53.38 356.75L60.42 356.75L67.46 356.75L74.51 353.25L81.55 349.75L95.64 339.25L109.73 341L123.82 335.75L137.9 342.75L151.99 346.25" fill="none" stroke="#2a2a2a" stroke-width="0.75" stroke-linejoin="round"/><path d="M29.9 355L34.59 360.25L39.29 360.25L46.33 348L53.38 348L60.42 341L67.46 344.5L74.51 335.75L81.55 344.5L95.64 328.75L109.73 337.5L123.82 335.75L137.9 313L151.99 300.75" fill="none" stroke="#2a2a2a" stroke-width="0.75" stroke-linejoin="round"/><path d="M29.9 369L34.59 372.5L39.29 372.5L46.33 372.5L53.38 374.25L60.42 374.25L67.46 372.5L74.51 374.25L81.55 374.25L95.64 370.75L109.73 374.25L123.82 372.5L137.9 369L151.99 372.5" fill="none" stroke="#2a2a2a" stroke-width="0.75" stroke-linejoin="round"/><path d="M29.9 367.1L31.8 370.52H28Z" fill="#000"/><path d="M34.59 368.85L36.49 372.27H32.69Z" fill="#000"/><path d="M39.29 370.6L41.19 374.02H37.39Z" fill="#000"/><path d="M46.33 360.1L48.23 363.52H44.43Z" fill="#000"/><path d="M53.38 354.85L55.28 358.27H51.48Z" fill="#000"/><path d="M60.42 354.85L62.32 358.27H58.52Z" fill="#000"/><path d="M67.46 354.85L69.36 358.27H65.56Z" fill="#000"/><path d="M74.51 351.35L76.41 354.77H72.61Z" fill="#000"/><path d="M81.55 347.85L83.45 351.27H79.65Z" fill="#000"/><path d="M95.64 337.35L97.54 340.77H93.74Z" fill="#000"/><path d="M109.73 339.1L111.63 342.52H107.83Z" fill="#000"/><path d="M123.82 333.85L125.72 337.27H121.92Z" fill="#000"/><path d="M137.9 340.85L139.8 344.27H136Z" fill="#000"/><path d="M151.99 344.35L153.89 347.77H150.09Z" fill="#000"/><circle cx="29.9" cy="355" r="1.75" fill="#fff" stroke="#111" stroke-width="0.8"/><circle cx="34.59" cy="360.25" r="1.75" fill="#fff" stroke="#111" stroke-width="0.8"/><circle cx="39.29" cy="360.25" r="1.75" fill="#fff" stroke="#111" stroke-width="0.8"/><circle cx="46.33" cy="348" r="1.75" fill="#fff" stroke="#111" stroke-width="0.8"/><circle cx="53.38" cy="348" r="1.75" fill="#fff" stroke="#111" stroke-width="0.8"/><circle cx="60.42" cy="341" r="1.75" fill="#fff" stroke="#111" stroke-width="0.8"/><circle cx="67.46" cy="344.5" r="1.75" fill="#fff" stroke="#111" stroke-width="0.8"/><circle cx="74.51" cy="335.75" r="1.75" fill="#fff" stroke="#111" stroke-width="0.8"/><circle cx="81.55" cy="344.5" r="1.75" fill="#fff" stroke="#111" stroke-width="0.8"/><circle cx="95.64" cy="328.75" r="1.75" fill="#fff" stroke="#111" stroke-width="0.8"/><circle cx="109.73" cy="337.5" r="1.75" fill="#fff" stroke="#111" stroke-width="0.8"/><circle cx="123.82" cy="335.75" r="1.75" fill="#fff" stroke="#111" stroke-width="0.8"/><circle cx="137.9" cy="313" r="1.75" fill="#fff" stroke="#111" stroke-width="0.8"/><circle cx="151.99" cy="300.75" r="1.75" fill="#fff" stroke="#111" stroke-width="0.8"/><circle cx="29.9" cy="369" r="1.9" fill="#000"/><circle cx="34.59" cy="372.5" r="1.9" fill="#000"/><circle cx="39.29" cy="372.5" r="1.9" fill="#000"/><circle cx="46.33" cy="372.5" r="1.9" fill="#000"/><circle cx="53.38" cy="374.25" r="1.9" fill="#000"/><circle cx="60.42" cy="374.25" r="1.9" fill="#000"/><circle cx="67.46" cy="372.5" r="1.9" fill="#000"/><circle cx="74.51" cy="374.25" r="1.9" fill="#000"/><circle cx="81.55" cy="374.25" r="1.9" fill="#000"/><circle cx="95.64" cy="370.75" r="1.9" fill="#000"/><circle cx="109.73" cy="374.25" r="1.9" fill="#000"/><circle cx="123.82" cy="372.5" r="1.9" fill="#000"/><circle cx="137.9" cy="369" r="1.9" fill="#000"/><circle cx="151.99" cy="372.5" r="1.9" fill="#000"/></g>
<g><path d="M210.2 295.5V383H341.4" fill="none" stroke="#5a5a5a" stroke-width="1.2"/><path d="M207.6 383H210.2M207.6 353.83H210.2M207.6 324.67H210.2M207.6 295.5H210.2M210.2 383V385.7M224.29 383V385.7M238.38 383V385.7M252.46 383V385.7M266.55 383V385.7M280.64 383V385.7M294.73 383V385.7M308.82 383V385.7M322.9 383V385.7M336.99 383V385.7" stroke="#5a5a5a" stroke-width="1.2"/><text x="205.3" y="385.8" text-anchor="end" class="tk">0</text><text x="205.3" y="356.63" text-anchor="end" class="tk">5</text><text x="205.3" y="327.47" text-anchor="end" class="tk">10</text><text x="205.3" y="298.3" text-anchor="end" class="tk">15</text><text x="210.2" y="393.6" text-anchor="middle" class="tk">–30</text><text x="224.29" y="393.6" text-anchor="middle" class="tk">0</text><text x="238.38" y="393.6" text-anchor="middle" class="tk">30</text><text x="252.46" y="393.6" text-anchor="middle" class="tk">60</text><text x="266.55" y="393.6" text-anchor="middle" class="tk">90</text><text x="280.64" y="393.6" text-anchor="middle" class="tk">120</text><text x="294.73" y="393.6" text-anchor="middle" class="tk">150</text><text x="308.82" y="393.6" text-anchor="middle" class="tk">180</text><text x="322.9" y="393.6" text-anchor="middle" class="tk">210</text><text x="336.99" y="393.6" text-anchor="middle" class="tk">240</text><text x="275.8" y="405.8" text-anchor="middle" class="lb">Time (min)</text><text x="275.8" y="284.9" text-anchor="middle" class="tt">CCK</text><text transform="translate(191.3 339.25) rotate(-90)" text-anchor="middle" class="lb" xml:space="preserve">CCK (pmol/L)</text><path d="M214.9 379.5L219.59 381.83L224.29 381.83L231.33 371.33L238.38 344.5L245.42 367.83L252.46 369L259.51 358.5L266.55 363.17L280.64 366.08L294.73 363.75L308.82 370.17L322.9 369L336.99 368.42" fill="none" stroke="#2a2a2a" stroke-width="0.75" stroke-linejoin="round"/><path d="M214.9 381.25L219.59 382.42L224.29 381.83L231.33 339.25L238.38 327.58L245.42 352.08L252.46 347.42L259.51 337.5L266.55 358.5L280.64 347.42L294.73 321.75L308.82 375.42L322.9 376.58L336.99 376" fill="none" stroke="#2a2a2a" stroke-width="0.75" stroke-linejoin="round"/><path d="M214.9 381.83L219.59 381.83L224.29 381.83L231.33 382.12L238.38 382.12L245.42 382.12L252.46 382.12L259.51 382.12L266.55 382.12L280.64 382.12L294.73 382.12L308.82 382.12L322.9 382.12L336.99 382.12" fill="none" stroke="#2a2a2a" stroke-width="0.75" stroke-linejoin="round"/><path d="M214.9 377.6L216.8 381.02H213Z" fill="#000"/><path d="M219.59 379.93L221.49 383.35H217.69Z" fill="#000"/><path d="M224.29 379.93L226.19 383.35H222.39Z" fill="#000"/><path d="M231.33 369.43L233.23 372.85H229.43Z" fill="#000"/><path d="M238.38 342.6L240.28 346.02H236.48Z" fill="#000"/><path d="M245.42 365.93L247.32 369.35H243.52Z" fill="#000"/><path d="M252.46 367.1L254.36 370.52H250.56Z" fill="#000"/><path d="M259.51 356.6L261.41 360.02H257.61Z" fill="#000"/><path d="M266.55 361.27L268.45 364.69H264.65Z" fill="#000"/><path d="M280.64 364.18L282.54 367.6H278.74Z" fill="#000"/><path d="M294.73 361.85L296.63 365.27H292.83Z" fill="#000"/><path d="M308.82 368.27L310.72 371.69H306.92Z" fill="#000"/><path d="M322.9 367.1L324.8 370.52H321Z" fill="#000"/><path d="M336.99 366.52L338.89 369.94H335.09Z" fill="#000"/><circle cx="214.9" cy="381.25" r="1.75" fill="#fff" stroke="#111" stroke-width="0.8"/><circle cx="219.59" cy="382.42" r="1.75" fill="#fff" stroke="#111" stroke-width="0.8"/><circle cx="224.29" cy="381.83" r="1.75" fill="#fff" stroke="#111" stroke-width="0.8"/><circle cx="231.33" cy="339.25" r="1.75" fill="#fff" stroke="#111" stroke-width="0.8"/><circle cx="238.38" cy="327.58" r="1.75" fill="#fff" stroke="#111" stroke-width="0.8"/><circle cx="245.42" cy="352.08" r="1.75" fill="#fff" stroke="#111" stroke-width="0.8"/><circle cx="252.46" cy="347.42" r="1.75" fill="#fff" stroke="#111" stroke-width="0.8"/><circle cx="259.51" cy="337.5" r="1.75" fill="#fff" stroke="#111" stroke-width="0.8"/><circle cx="266.55" cy="358.5" r="1.75" fill="#fff" stroke="#111" stroke-width="0.8"/><circle cx="280.64" cy="347.42" r="1.75" fill="#fff" stroke="#111" stroke-width="0.8"/><circle cx="294.73" cy="321.75" r="1.75" fill="#fff" stroke="#111" stroke-width="0.8"/><circle cx="308.82" cy="375.42" r="1.75" fill="#fff" stroke="#111" stroke-width="0.8"/><circle cx="322.9" cy="376.58" r="1.75" fill="#fff" stroke="#111" stroke-width="0.8"/><circle cx="336.99" cy="376" r="1.75" fill="#fff" stroke="#111" stroke-width="0.8"/><circle cx="214.9" cy="381.83" r="1.9" fill="#000"/><circle cx="219.59" cy="381.83" r="1.9" fill="#000"/><circle cx="224.29" cy="381.83" r="1.9" fill="#000"/><circle cx="231.33" cy="382.12" r="1.9" fill="#000"/><circle cx="238.38" cy="382.12" r="1.9" fill="#000"/><circle cx="245.42" cy="382.12" r="1.9" fill="#000"/><circle cx="252.46" cy="382.12" r="1.9" fill="#000"/><circle cx="259.51" cy="382.12" r="1.9" fill="#000"/><circle cx="266.55" cy="382.12" r="1.9" fill="#000"/><circle cx="280.64" cy="382.12" r="1.9" fill="#000"/><circle cx="294.73" cy="382.12" r="1.9" fill="#000"/><circle cx="308.82" cy="382.12" r="1.9" fill="#000"/><circle cx="322.9" cy="382.12" r="1.9" fill="#000"/><circle cx="336.99" cy="382.12" r="1.9" fill="#000"/></g>
<g><path d="M394.2 295.5V383H525.4" fill="none" stroke="#5a5a5a" stroke-width="1.2"/><path d="M391.6 383H394.2M391.6 365.5H394.2M391.6 348H394.2M391.6 330.5H394.2M391.6 313H394.2M391.6 295.5H394.2M394.2 383V385.7M408.29 383V385.7M422.38 383V385.7M436.46 383V385.7M450.55 383V385.7M464.64 383V385.7M478.73 383V385.7M492.82 383V385.7M506.9 383V385.7M520.99 383V385.7" stroke="#5a5a5a" stroke-width="1.2"/><text x="389.2" y="385.8" text-anchor="end" class="tk">0</text><text x="389.2" y="368.3" text-anchor="end" class="tk">5</text><text x="389.2" y="350.8" text-anchor="end" class="tk">10</text><text x="389.2" y="333.3" text-anchor="end" class="tk">15</text><text x="389.2" y="315.8" text-anchor="end" class="tk">20</text><text x="389.2" y="298.3" text-anchor="end" class="tk">25</text><text x="394.2" y="393.4" text-anchor="middle" class="tk">–30</text><text x="408.29" y="393.4" text-anchor="middle" class="tk">0</text><text x="422.38" y="393.4" text-anchor="middle" class="tk">30</text><text x="436.46" y="393.4" text-anchor="middle" class="tk">60</text><text x="450.55" y="393.4" text-anchor="middle" class="tk">90</text><text x="464.64" y="393.4" text-anchor="middle" class="tk">120</text><text x="478.73" y="393.4" text-anchor="middle" class="tk">150</text><text x="492.82" y="393.4" text-anchor="middle" class="tk">180</text><text x="506.9" y="393.4" text-anchor="middle" class="tk">210</text><text x="520.99" y="393.4" text-anchor="middle" class="tk">240</text><text x="459.8" y="405.3" text-anchor="middle" class="lb">Time (min)</text><text x="459.8" y="284.9" text-anchor="middle" class="tt">Somatostatin</text><text transform="translate(375 339.25) rotate(-90)" text-anchor="middle" class="lb" xml:space="preserve">Plasma somatostatin (pmol/L)</text><path d="M398.9 358.5L403.59 362L408.29 362L415.33 355L422.38 358.5L429.42 358.5L436.46 373.2L443.51 375.65L450.55 372.5L464.64 369L478.73 369L492.82 372.5L506.9 372.5L520.99 365.85" fill="none" stroke="#2a2a2a" stroke-width="0.75" stroke-linejoin="round"/><path d="M403.59 362L408.29 362L415.33 362L422.38 369L429.42 369L436.46 375.65L443.51 369L450.55 369L464.64 369L478.73 369L492.82 372.5L506.9 376L520.99 376" fill="none" stroke="#2a2a2a" stroke-width="0.75" stroke-linejoin="round"/><path d="M398.9 323.5L403.59 327L408.29 327L415.33 327L422.38 323.5L429.42 330.5L436.46 323.5L443.51 330.5L450.55 334L464.64 330.5L478.73 320L492.82 323.5L520.99 313" fill="none" stroke="#2a2a2a" stroke-width="0.75" stroke-linejoin="round"/><path d="M398.9 356.6L400.8 360.02H397Z" fill="#000"/><path d="M403.59 360.1L405.49 363.52H401.69Z" fill="#000"/><path d="M408.29 360.1L410.19 363.52H406.39Z" fill="#000"/><path d="M415.33 353.1L417.23 356.52H413.43Z" fill="#000"/><path d="M422.38 356.6L424.28 360.02H420.48Z" fill="#000"/><path d="M429.42 356.6L431.32 360.02H427.52Z" fill="#000"/><path d="M436.46 371.3L438.36 374.72H434.56Z" fill="#000"/><path d="M443.51 373.75L445.41 377.17H441.61Z" fill="#000"/><path d="M450.55 370.6L452.45 374.02H448.65Z" fill="#000"/><path d="M464.64 367.1L466.54 370.52H462.74Z" fill="#000"/><path d="M478.73 367.1L480.63 370.52H476.83Z" fill="#000"/><path d="M492.82 370.6L494.72 374.02H490.92Z" fill="#000"/><path d="M506.9 370.6L508.8 374.02H505Z" fill="#000"/><path d="M520.99 363.95L522.89 367.37H519.09Z" fill="#000"/><circle cx="403.59" cy="362" r="1.75" fill="#fff" stroke="#111" stroke-width="0.8"/><circle cx="408.29" cy="362" r="1.75" fill="#fff" stroke="#111" stroke-width="0.8"/><circle cx="415.33" cy="362" r="1.75" fill="#fff" stroke="#111" stroke-width="0.8"/><circle cx="422.38" cy="369" r="1.75" fill="#fff" stroke="#111" stroke-width="0.8"/><circle cx="429.42" cy="369" r="1.75" fill="#fff" stroke="#111" stroke-width="0.8"/><circle cx="436.46" cy="375.65" r="1.75" fill="#fff" stroke="#111" stroke-width="0.8"/><circle cx="443.51" cy="369" r="1.75" fill="#fff" stroke="#111" stroke-width="0.8"/><circle cx="450.55" cy="369" r="1.75" fill="#fff" stroke="#111" stroke-width="0.8"/><circle cx="464.64" cy="369" r="1.75" fill="#fff" stroke="#111" stroke-width="0.8"/><circle cx="478.73" cy="369" r="1.75" fill="#fff" stroke="#111" stroke-width="0.8"/><circle cx="492.82" cy="372.5" r="1.75" fill="#fff" stroke="#111" stroke-width="0.8"/><circle cx="506.9" cy="376" r="1.75" fill="#fff" stroke="#111" stroke-width="0.8"/><circle cx="520.99" cy="376" r="1.75" fill="#fff" stroke="#111" stroke-width="0.8"/><circle cx="398.9" cy="323.5" r="1.9" fill="#000"/><circle cx="403.59" cy="327" r="1.9" fill="#000"/><circle cx="408.29" cy="327" r="1.9" fill="#000"/><circle cx="415.33" cy="327" r="1.9" fill="#000"/><circle cx="422.38" cy="323.5" r="1.9" fill="#000"/><circle cx="429.42" cy="330.5" r="1.9" fill="#000"/><circle cx="436.46" cy="323.5" r="1.9" fill="#000"/><circle cx="443.51" cy="330.5" r="1.9" fill="#000"/><circle cx="450.55" cy="334" r="1.9" fill="#000"/><circle cx="464.64" cy="330.5" r="1.9" fill="#000"/><circle cx="478.73" cy="320" r="1.9" fill="#000"/><circle cx="492.82" cy="323.5" r="1.9" fill="#000"/><circle cx="520.99" cy="313" r="1.9" fill="#000"/></g>
<g><path d="M575.4 295.5V383H706.6" fill="none" stroke="#5a5a5a" stroke-width="1.2"/><path d="M572.8 383H575.4M572.8 361.12H575.4M572.8 339.25H575.4M572.8 317.38H575.4M572.8 295.5H575.4M575.4 383V385.7M589.49 383V385.7M603.58 383V385.7M617.66 383V385.7M631.75 383V385.7M645.84 383V385.7M659.93 383V385.7M674.02 383V385.7M688.1 383V385.7M702.19 383V385.7" stroke="#5a5a5a" stroke-width="1.2"/><text x="570.5" y="385.8" text-anchor="end" class="tk">0</text><text x="570.5" y="363.93" text-anchor="end" class="tk">50</text><text x="570.5" y="342.05" text-anchor="end" class="tk">100</text><text x="570.5" y="320.18" text-anchor="end" class="tk">150</text><text x="570.5" y="298.3" text-anchor="end" class="tk">200</text><text x="575.4" y="392.8" text-anchor="middle" class="tk">–30</text><text x="589.49" y="392.8" text-anchor="middle" class="tk">0</text><text x="603.58" y="392.8" text-anchor="middle" class="tk">30</text><text x="617.66" y="392.8" text-anchor="middle" class="tk">60</text><text x="631.75" y="392.8" text-anchor="middle" class="tk">90</text><text x="645.84" y="392.8" text-anchor="middle" class="tk">120</text><text x="659.93" y="392.8" text-anchor="middle" class="tk">150</text><text x="674.02" y="392.8" text-anchor="middle" class="tk">180</text><text x="688.1" y="392.8" text-anchor="middle" class="tk">210</text><text x="702.19" y="392.8" text-anchor="middle" class="tk">240</text><text x="641" y="402.9" text-anchor="middle" class="lb">Time (min)</text><text x="641" y="284.9" text-anchor="middle" class="tt">PP</text><text transform="translate(554.1 339.25) rotate(-90)" text-anchor="middle" class="lb" xml:space="preserve">Plasma PP (pmol/L)</text><path d="M580.1 376.88L584.79 377.75L589.49 378.62L596.53 364.19L603.58 368.12L610.62 364.62L617.66 376L624.71 376L631.75 377.75L645.84 374.25L659.93 379.5L674.02 376.88L688.1 354.56L702.19 350.62" fill="none" stroke="#2a2a2a" stroke-width="0.75" stroke-linejoin="round"/><path d="M580.1 379.06L584.79 379.94L589.49 378.19L596.53 327L603.58 302.5L610.62 339.25L617.66 379.94L624.71 324.38L631.75 341L645.84 362.88L659.93 318.69L674.02 369L688.1 376.88L702.19 376.44" fill="none" stroke="#2a2a2a" stroke-width="0.75" stroke-linejoin="round"/><path d="M580.1 378.62L584.79 377.75L589.49 378.62L596.53 375.12L603.58 377.31L610.62 376L617.66 376L624.71 376L631.75 376.44L645.84 375.56L659.93 375.56L674.02 375.12L702.19 376.44" fill="none" stroke="#2a2a2a" stroke-width="0.75" stroke-linejoin="round"/><path d="M580.1 374.98L582 378.39H578.2Z" fill="#000"/><path d="M584.79 375.85L586.69 379.27H582.89Z" fill="#000"/><path d="M589.49 376.73L591.39 380.14H587.59Z" fill="#000"/><path d="M596.53 362.29L598.43 365.71H594.63Z" fill="#000"/><path d="M603.58 366.23L605.48 369.64H601.68Z" fill="#000"/><path d="M610.62 362.73L612.52 366.14H608.72Z" fill="#000"/><path d="M617.66 374.1L619.56 377.52H615.76Z" fill="#000"/><path d="M624.71 374.1L626.61 377.52H622.81Z" fill="#000"/><path d="M631.75 375.85L633.65 379.27H629.85Z" fill="#000"/><path d="M645.84 372.35L647.74 375.77H643.94Z" fill="#000"/><path d="M659.93 377.6L661.83 381.02H658.03Z" fill="#000"/><path d="M674.02 374.98L675.92 378.39H672.12Z" fill="#000"/><path d="M688.1 352.66L690 356.08H686.2Z" fill="#000"/><path d="M702.19 348.73L704.09 352.14H700.29Z" fill="#000"/><circle cx="580.1" cy="379.06" r="1.75" fill="#fff" stroke="#111" stroke-width="0.8"/><circle cx="584.79" cy="379.94" r="1.75" fill="#fff" stroke="#111" stroke-width="0.8"/><circle cx="589.49" cy="378.19" r="1.75" fill="#fff" stroke="#111" stroke-width="0.8"/><circle cx="596.53" cy="327" r="1.75" fill="#fff" stroke="#111" stroke-width="0.8"/><circle cx="603.58" cy="302.5" r="1.75" fill="#fff" stroke="#111" stroke-width="0.8"/><circle cx="610.62" cy="339.25" r="1.75" fill="#fff" stroke="#111" stroke-width="0.8"/><circle cx="617.66" cy="379.94" r="1.75" fill="#fff" stroke="#111" stroke-width="0.8"/><circle cx="624.71" cy="324.38" r="1.75" fill="#fff" stroke="#111" stroke-width="0.8"/><circle cx="631.75" cy="341" r="1.75" fill="#fff" stroke="#111" stroke-width="0.8"/><circle cx="645.84" cy="362.88" r="1.75" fill="#fff" stroke="#111" stroke-width="0.8"/><circle cx="659.93" cy="318.69" r="1.75" fill="#fff" stroke="#111" stroke-width="0.8"/><circle cx="674.02" cy="369" r="1.75" fill="#fff" stroke="#111" stroke-width="0.8"/><circle cx="688.1" cy="376.88" r="1.75" fill="#fff" stroke="#111" stroke-width="0.8"/><circle cx="702.19" cy="376.44" r="1.75" fill="#fff" stroke="#111" stroke-width="0.8"/><circle cx="580.1" cy="378.62" r="1.9" fill="#000"/><circle cx="584.79" cy="377.75" r="1.9" fill="#000"/><circle cx="589.49" cy="378.62" r="1.9" fill="#000"/><circle cx="596.53" cy="375.12" r="1.9" fill="#000"/><circle cx="603.58" cy="377.31" r="1.9" fill="#000"/><circle cx="610.62" cy="376" r="1.9" fill="#000"/><circle cx="617.66" cy="376" r="1.9" fill="#000"/><circle cx="624.71" cy="376" r="1.9" fill="#000"/><circle cx="631.75" cy="376.44" r="1.9" fill="#000"/><circle cx="645.84" cy="375.56" r="1.9" fill="#000"/><circle cx="659.93" cy="375.56" r="1.9" fill="#000"/><circle cx="674.02" cy="375.12" r="1.9" fill="#000"/><circle cx="702.19" cy="376.44" r="1.9" fill="#000"/></g>
<g><path d="M25 435.4V522.5H156.2" fill="none" stroke="#5a5a5a" stroke-width="1.2"/><path d="M22.4 522.5H25M22.4 505.08H25M22.4 487.66H25M22.4 470.24H25M22.4 452.82H25M22.4 435.4H25M25 522.5V525.2M39.09 522.5V525.2M53.18 522.5V525.2M67.26 522.5V525.2M81.35 522.5V525.2M95.44 522.5V525.2M109.53 522.5V525.2M123.62 522.5V525.2M137.7 522.5V525.2M151.79 522.5V525.2" stroke="#5a5a5a" stroke-width="1.2"/><text x="20" y="525.3" text-anchor="end" class="tk">0</text><text x="20" y="507.88" text-anchor="end" class="tk">10</text><text x="20" y="490.46" text-anchor="end" class="tk">20</text><text x="20" y="473.04" text-anchor="end" class="tk">30</text><text x="20" y="455.62" text-anchor="end" class="tk">40</text><text x="20" y="438.2" text-anchor="end" class="tk">50</text><text x="25" y="532.6" text-anchor="middle" class="tk">–30</text><text x="39.09" y="532.6" text-anchor="middle" class="tk">0</text><text x="53.18" y="532.6" text-anchor="middle" class="tk">30</text><text x="67.26" y="532.6" text-anchor="middle" class="tk">60</text><text x="81.35" y="532.6" text-anchor="middle" class="tk">90</text><text x="95.44" y="532.6" text-anchor="middle" class="tk">120</text><text x="109.53" y="532.6" text-anchor="middle" class="tk">150</text><text x="123.62" y="532.6" text-anchor="middle" class="tk">180</text><text x="137.7" y="532.6" text-anchor="middle" class="tk">210</text><text x="151.79" y="532.6" text-anchor="middle" class="tk">240</text><text x="90.6" y="544.1" text-anchor="middle" class="lb">Time (min)</text><text x="90.6" y="424.6" text-anchor="middle" class="tt">Total bile acids</text><text transform="translate(6.2 478.95) rotate(-90)" text-anchor="middle" class="lb" xml:space="preserve">Plasma TBA (µmol/L)</text><path d="M29.7 513.44L34.39 512.57L39.09 512.05L46.13 514.49L53.18 515.71L60.22 512.05L67.26 509.61L74.31 508.91L81.35 508.39L95.44 495.85L109.53 480.52L123.62 467.1L137.7 455.26L151.79 446.55" fill="none" stroke="#2a2a2a" stroke-width="0.75" stroke-linejoin="round"/><path d="M29.7 508.39L34.39 509.61L39.09 510.65L46.13 511.7L53.18 505.6L60.22 507L67.26 506.13L74.31 504.03L81.35 504.91L95.44 505.25L109.53 500.55L123.62 505.25L137.7 508.74L151.79 506.13" fill="none" stroke="#2a2a2a" stroke-width="0.75" stroke-linejoin="round"/><path d="M29.7 519.36L34.39 519.36L39.09 519.36L46.13 519.02L53.18 518.49L60.22 518.49L67.26 518.14L74.31 518.84L81.35 517.62L95.44 517.97L109.53 518.84L123.62 518.32L137.7 517.62L151.79 517.1" fill="none" stroke="#2a2a2a" stroke-width="0.75" stroke-linejoin="round"/><path d="M29.7 511.54L31.6 514.96H27.8Z" fill="#000"/><path d="M34.39 510.67L36.29 514.09H32.49Z" fill="#000"/><path d="M39.09 510.15L40.99 513.57H37.19Z" fill="#000"/><path d="M46.13 512.59L48.03 516.01H44.23Z" fill="#000"/><path d="M53.18 513.81L55.08 517.23H51.28Z" fill="#000"/><path d="M60.22 510.15L62.12 513.57H58.32Z" fill="#000"/><path d="M67.26 507.71L69.16 511.13H65.36Z" fill="#000"/><path d="M74.31 507.01L76.21 510.43H72.41Z" fill="#000"/><path d="M81.35 506.49L83.25 509.91H79.45Z" fill="#000"/><path d="M95.44 493.95L97.34 497.37H93.54Z" fill="#000"/><path d="M109.53 478.62L111.43 482.04H107.63Z" fill="#000"/><path d="M123.62 465.2L125.52 468.62H121.72Z" fill="#000"/><path d="M137.7 453.36L139.6 456.78H135.8Z" fill="#000"/><path d="M151.79 444.65L153.69 448.07H149.89Z" fill="#000"/><circle cx="29.7" cy="508.39" r="1.75" fill="#fff" stroke="#111" stroke-width="0.8"/><circle cx="34.39" cy="509.61" r="1.75" fill="#fff" stroke="#111" stroke-width="0.8"/><circle cx="39.09" cy="510.65" r="1.75" fill="#fff" stroke="#111" stroke-width="0.8"/><circle cx="46.13" cy="511.7" r="1.75" fill="#fff" stroke="#111" stroke-width="0.8"/><circle cx="53.18" cy="505.6" r="1.75" fill="#fff" stroke="#111" stroke-width="0.8"/><circle cx="60.22" cy="507" r="1.75" fill="#fff" stroke="#111" stroke-width="0.8"/><circle cx="67.26" cy="506.13" r="1.75" fill="#fff" stroke="#111" stroke-width="0.8"/><circle cx="74.31" cy="504.03" r="1.75" fill="#fff" stroke="#111" stroke-width="0.8"/><circle cx="81.35" cy="504.91" r="1.75" fill="#fff" stroke="#111" stroke-width="0.8"/><circle cx="95.44" cy="505.25" r="1.75" fill="#fff" stroke="#111" stroke-width="0.8"/><circle cx="109.53" cy="500.55" r="1.75" fill="#fff" stroke="#111" stroke-width="0.8"/><circle cx="123.62" cy="505.25" r="1.75" fill="#fff" stroke="#111" stroke-width="0.8"/><circle cx="137.7" cy="508.74" r="1.75" fill="#fff" stroke="#111" stroke-width="0.8"/><circle cx="151.79" cy="506.13" r="1.75" fill="#fff" stroke="#111" stroke-width="0.8"/><circle cx="29.7" cy="519.36" r="1.9" fill="#000"/><circle cx="34.39" cy="519.36" r="1.9" fill="#000"/><circle cx="39.09" cy="519.36" r="1.9" fill="#000"/><circle cx="46.13" cy="519.02" r="1.9" fill="#000"/><circle cx="53.18" cy="518.49" r="1.9" fill="#000"/><circle cx="60.22" cy="518.49" r="1.9" fill="#000"/><circle cx="67.26" cy="518.14" r="1.9" fill="#000"/><circle cx="74.31" cy="518.84" r="1.9" fill="#000"/><circle cx="81.35" cy="517.62" r="1.9" fill="#000"/><circle cx="95.44" cy="517.97" r="1.9" fill="#000"/><circle cx="109.53" cy="518.84" r="1.9" fill="#000"/><circle cx="123.62" cy="518.32" r="1.9" fill="#000"/><circle cx="137.7" cy="517.62" r="1.9" fill="#000"/><circle cx="151.79" cy="517.1" r="1.9" fill="#000"/></g>
<g><path d="M209.1 435.4V522.5H340.3" fill="none" stroke="#5a5a5a" stroke-width="1.2"/><path d="M206.5 522.5H209.1M206.5 493.47H209.1M206.5 464.43H209.1M206.5 435.4H209.1M209.1 522.5V525.2M223.19 522.5V525.2M237.28 522.5V525.2M251.36 522.5V525.2M265.45 522.5V525.2M279.54 522.5V525.2M293.63 522.5V525.2M307.72 522.5V525.2M321.8 522.5V525.2M335.89 522.5V525.2" stroke="#5a5a5a" stroke-width="1.2"/><text x="203.9" y="525.3" text-anchor="end" class="tk">0.0</text><text x="203.9" y="496.27" text-anchor="end" class="tk">0.5</text><text x="203.9" y="467.23" text-anchor="end" class="tk">1.0</text><text x="203.9" y="438.2" text-anchor="end" class="tk">1.5</text><text x="209.1" y="533.6" text-anchor="middle" class="tk">–30</text><text x="223.19" y="533.6" text-anchor="middle" class="tk">0</text><text x="237.28" y="533.6" text-anchor="middle" class="tk">30</text><text x="251.36" y="533.6" text-anchor="middle" class="tk">60</text><text x="265.45" y="533.6" text-anchor="middle" class="tk">90</text><text x="279.54" y="533.6" text-anchor="middle" class="tk">120</text><text x="293.63" y="533.6" text-anchor="middle" class="tk">150</text><text x="307.72" y="533.6" text-anchor="middle" class="tk">180</text><text x="321.8" y="533.6" text-anchor="middle" class="tk">210</text><text x="335.89" y="533.6" text-anchor="middle" class="tk">240</text><text x="274.7" y="543.9" text-anchor="middle" class="lb">Time (min)</text><text x="274.7" y="424.6" text-anchor="middle" class="tt">Triglyceride</text><text transform="translate(188.1 478.95) rotate(-90)" text-anchor="middle" class="lb" xml:space="preserve">Plasma triglyceride (mmol/L)</text><path d="M213.8 468.5L218.49 467.92L223.19 468.5L230.23 468.5L237.28 469.95L244.32 473.14L251.36 471.69L258.41 471.4L265.45 469.37L279.54 471.05L293.63 470.41L307.72 470.41L321.8 471.4L335.89 471.05" fill="none" stroke="#2a2a2a" stroke-width="0.75" stroke-linejoin="round"/><path d="M213.8 472.56L218.49 473.72L223.19 471.4L230.23 472.56L237.28 478.37L244.32 476.05L251.36 466.76L258.41 466.76L265.45 469.66L279.54 476.63L293.63 462.92L307.72 473.72L321.8 470.24" fill="none" stroke="#2a2a2a" stroke-width="0.75" stroke-linejoin="round"/><path d="M213.8 489.4L218.49 495.79L223.19 492.31L230.23 490.56L237.28 495.21L244.32 495.21L251.36 489.4L258.41 494.05L265.45 492.31L279.54 496.08L293.63 488.82L307.72 486.15L321.8 492.31L335.89 491.14" fill="none" stroke="#2a2a2a" stroke-width="0.75" stroke-linejoin="round"/><path d="M213.8 466.6L215.7 470.02H211.9Z" fill="#000"/><path d="M218.49 466.02L220.39 469.44H216.59Z" fill="#000"/><path d="M223.19 466.6L225.09 470.02H221.29Z" fill="#000"/><path d="M230.23 466.6L232.13 470.02H228.33Z" fill="#000"/><path d="M237.28 468.05L239.18 471.47H235.38Z" fill="#000"/><path d="M244.32 471.24L246.22 474.66H242.42Z" fill="#000"/><path d="M251.36 469.79L253.26 473.21H249.46Z" fill="#000"/><path d="M258.41 469.5L260.31 472.92H256.51Z" fill="#000"/><path d="M265.45 467.47L267.35 470.89H263.55Z" fill="#000"/><path d="M279.54 469.15L281.44 472.57H277.64Z" fill="#000"/><path d="M293.63 468.51L295.53 471.93H291.73Z" fill="#000"/><path d="M307.72 468.51L309.62 471.93H305.82Z" fill="#000"/><path d="M321.8 469.5L323.7 472.92H319.9Z" fill="#000"/><path d="M335.89 469.15L337.79 472.57H333.99Z" fill="#000"/><circle cx="213.8" cy="472.56" r="1.75" fill="#fff" stroke="#111" stroke-width="0.8"/><circle cx="218.49" cy="473.72" r="1.75" fill="#fff" stroke="#111" stroke-width="0.8"/><circle cx="223.19" cy="471.4" r="1.75" fill="#fff" stroke="#111" stroke-width="0.8"/><circle cx="230.23" cy="472.56" r="1.75" fill="#fff" stroke="#111" stroke-width="0.8"/><circle cx="237.28" cy="478.37" r="1.75" fill="#fff" stroke="#111" stroke-width="0.8"/><circle cx="244.32" cy="476.05" r="1.75" fill="#fff" stroke="#111" stroke-width="0.8"/><circle cx="251.36" cy="466.76" r="1.75" fill="#fff" stroke="#111" stroke-width="0.8"/><circle cx="258.41" cy="466.76" r="1.75" fill="#fff" stroke="#111" stroke-width="0.8"/><circle cx="265.45" cy="469.66" r="1.75" fill="#fff" stroke="#111" stroke-width="0.8"/><circle cx="279.54" cy="476.63" r="1.75" fill="#fff" stroke="#111" stroke-width="0.8"/><circle cx="293.63" cy="462.92" r="1.75" fill="#fff" stroke="#111" stroke-width="0.8"/><circle cx="307.72" cy="473.72" r="1.75" fill="#fff" stroke="#111" stroke-width="0.8"/><circle cx="321.8" cy="470.24" r="1.75" fill="#fff" stroke="#111" stroke-width="0.8"/><circle cx="213.8" cy="489.4" r="1.9" fill="#000"/><circle cx="218.49" cy="495.79" r="1.9" fill="#000"/><circle cx="223.19" cy="492.31" r="1.9" fill="#000"/><circle cx="230.23" cy="490.56" r="1.9" fill="#000"/><circle cx="237.28" cy="495.21" r="1.9" fill="#000"/><circle cx="244.32" cy="495.21" r="1.9" fill="#000"/><circle cx="251.36" cy="489.4" r="1.9" fill="#000"/><circle cx="258.41" cy="494.05" r="1.9" fill="#000"/><circle cx="265.45" cy="492.31" r="1.9" fill="#000"/><circle cx="279.54" cy="496.08" r="1.9" fill="#000"/><circle cx="293.63" cy="488.82" r="1.9" fill="#000"/><circle cx="307.72" cy="486.15" r="1.9" fill="#000"/><circle cx="321.8" cy="492.31" r="1.9" fill="#000"/><circle cx="335.89" cy="491.14" r="1.9" fill="#000"/></g>
<g><path d="M394.2 435.4V522.5H525.4" fill="none" stroke="#5a5a5a" stroke-width="1.2"/><path d="M391.6 522.5H394.2M391.6 505.08H394.2M391.6 487.66H394.2M391.6 470.24H394.2M391.6 452.82H394.2M391.6 435.4H394.2M394.2 522.5V525.2M408.29 522.5V525.2M422.38 522.5V525.2M436.46 522.5V525.2M450.55 522.5V525.2M464.64 522.5V525.2M478.73 522.5V525.2M492.82 522.5V525.2M506.9 522.5V525.2M520.99 522.5V525.2" stroke="#5a5a5a" stroke-width="1.2"/><text x="389.9" y="525.3" text-anchor="end" class="tk">0.00</text><text x="389.9" y="507.88" text-anchor="end" class="tk">0.01</text><text x="389.9" y="490.46" text-anchor="end" class="tk">0.02</text><text x="389.9" y="473.04" text-anchor="end" class="tk">0.03</text><text x="389.9" y="455.62" text-anchor="end" class="tk">0.04</text><text x="389.9" y="438.2" text-anchor="end" class="tk">0.05</text><text x="394.2" y="532.6" text-anchor="middle" class="tk">–30</text><text x="408.29" y="532.6" text-anchor="middle" class="tk">0</text><text x="422.38" y="532.6" text-anchor="middle" class="tk">30</text><text x="436.46" y="532.6" text-anchor="middle" class="tk">60</text><text x="450.55" y="532.6" text-anchor="middle" class="tk">90</text><text x="464.64" y="532.6" text-anchor="middle" class="tk">120</text><text x="478.73" y="532.6" text-anchor="middle" class="tk">150</text><text x="492.82" y="532.6" text-anchor="middle" class="tk">180</text><text x="506.9" y="532.6" text-anchor="middle" class="tk">210</text><text x="520.99" y="532.6" text-anchor="middle" class="tk">240</text><text x="459.8" y="544.1" text-anchor="middle" class="lb">Time (min)</text><text x="459.8" y="424.6" text-anchor="middle" class="tt">Paracetamol</text><text transform="translate(369.6 478.95) rotate(-90)" text-anchor="middle" class="lb" xml:space="preserve">Paracetamol (mmol/L)</text><path d="M398.9 522.5L403.59 522.5L408.29 522.5L415.33 508.56L422.38 505.08L429.42 498.11L436.46 489.4L443.51 482.43L450.55 482.43L464.64 461.53L478.73 465.01L492.82 456.3L506.9 447.59L520.99 442.37" fill="none" stroke="#2a2a2a" stroke-width="0.75" stroke-linejoin="round"/><path d="M398.9 520.6L400.8 524.02H397Z" fill="#000"/><path d="M403.59 520.6L405.49 524.02H401.69Z" fill="#000"/><path d="M408.29 520.6L410.19 524.02H406.39Z" fill="#000"/><path d="M415.33 506.66L417.23 510.08H413.43Z" fill="#000"/><path d="M422.38 503.18L424.28 506.6H420.48Z" fill="#000"/><path d="M429.42 496.21L431.32 499.63H427.52Z" fill="#000"/><path d="M436.46 487.5L438.36 490.92H434.56Z" fill="#000"/><path d="M443.51 480.53L445.41 483.95H441.61Z" fill="#000"/><path d="M450.55 480.53L452.45 483.95H448.65Z" fill="#000"/><path d="M464.64 459.63L466.54 463.05H462.74Z" fill="#000"/><path d="M478.73 463.11L480.63 466.53H476.83Z" fill="#000"/><path d="M492.82 454.4L494.72 457.82H490.92Z" fill="#000"/><path d="M506.9 445.69L508.8 449.11H505Z" fill="#000"/><path d="M520.99 440.47L522.89 443.89H519.09Z" fill="#000"/></g>
</svg>
</body></html>
